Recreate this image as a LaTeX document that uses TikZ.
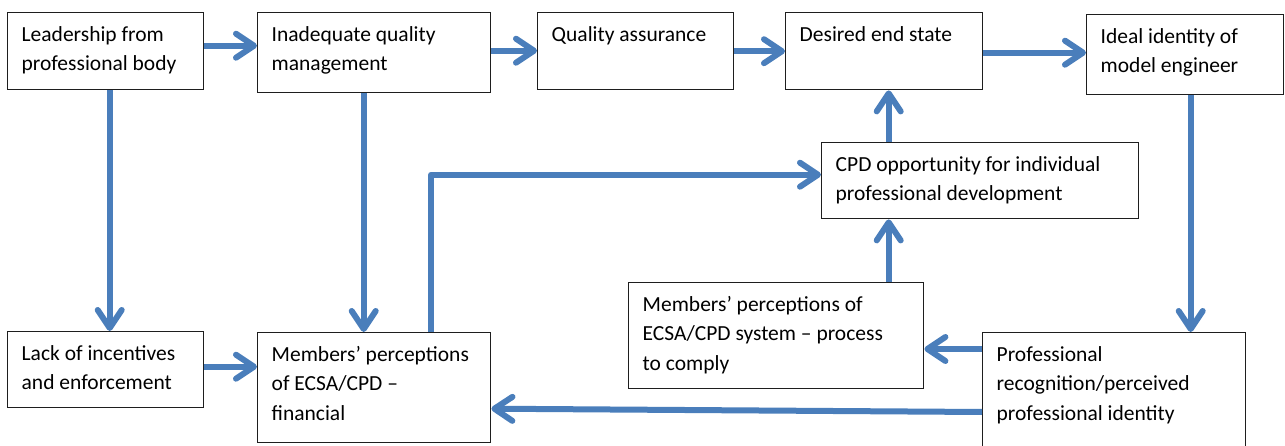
\documentclass[tikz,border=0pt]{standalone}
\usepackage{fontspec}
\setmainfont{Carlito}
\usetikzlibrary{arrows.meta}

\definecolor{flowblue}{RGB}{74,126,187}
\definecolor{boxline}{RGB}{30,30,30}

% text block inside a box: fixed size, top aligned, left inset
\newcommand\boxtext[3]{%
  \parbox[c][#2][t]{#1}{\vspace*{8pt}\raggedright\leftskip=14pt
    \fontsize{21.5}{29.5}\selectfont\strut #3}}

\tikzset{
  box/.style={draw=boxline, line width=1.4pt, inner sep=0pt, anchor=north west, fill=white},
  flow/.style={draw=flowblue, line width=6pt, line join=round,
    -{Straight Barb[length=18pt,width=24pt,round]}},
}

\begin{document}
\begin{tikzpicture}[x=1pt,y=-1pt]
\useasboundingbox (0,0) rectangle (1285,446);

% top row
\node[box] (lead)  at (7,12)    {\boxtext{196pt}{77pt}{Leadership from\\professional body}};
\node[box] (inad)  at (257,12)  {\boxtext{233pt}{80pt}{Inadequate quality\\management}};
\node[box] (qa)    at (537,12)  {\boxtext{196pt}{77pt}{Quality assurance}};
\node[box] (des)   at (785,12)  {\boxtext{197pt}{77pt}{Desired end state}};
\node[box] (ideal) at (1086,14) {\boxtext{197pt}{80pt}{Ideal identity of\\model engineer}};

% middle
\node[box] (cpd)   at (821,142) {\boxtext{317pt}{76pt}{CPD opportunity for individual\\professional development}};
\node[box] (sys)   at (628,282) {\boxtext{295pt}{106pt}{Members’ perceptions of\\ECSA/CPD system – process\\to comply}};

% bottom row
\node[box] (lack)  at (7,331)   {\boxtext{196pt}{76pt}{Lack of incentives\\and enforcement}};
\node[box] (fin)   at (257,332) {\boxtext{233pt}{110pt}{Members’ perceptions\\of ECSA/CPD –\\financial}};
\node[box] (prof)  at (982,332) {\boxtext{263pt}{150pt}{Professional\\recognition/perceived\\professional identity}};

% anchor points on the box edges
\coordinate (a1) at ([yshift=5.5pt]lead.east);
\coordinate (a2) at ([yshift=2pt]inad.east);
\coordinate (a3) at (qa.east);
\coordinate (a4) at ([yshift=-1.5pt]des.east);
\coordinate (d1) at ([xshift=4pt]lead.south);
\coordinate (d2) at ([xshift=-10.5pt]inad.south);
\coordinate (d3) at ([xshift=5.5pt]ideal.south);
\coordinate (l1) at ([yshift=3pt]lack.east);
\coordinate (f1) at ([xshift=57pt]fin.north);
\coordinate (c1) at ([yshift=6pt]cpd.west);
\coordinate (c2) at ([xshift=-91.5pt]cpd.north);
\coordinate (c3) at ([xshift=-91.5pt]cpd.south);
\coordinate (p1) at ([yshift=-17pt]prof.north west);
\coordinate (p2) at ([yshift=-80pt]prof.north west);
\coordinate (f2) at ([yshift=-21pt]fin.east);

% connectors
\draw[flow] (a1) -- (a1 -| inad.west);
\draw[flow] (a2) -- (a2 -| qa.west);
\draw[flow] (a3) -- (a3 -| des.west);
\draw[flow] (a4) -- (a4 -| ideal.west);
\draw[flow] (d1) -- (d1 |- lack.north);
\draw[flow] (d2) -- (d2 |- fin.north);
\draw[flow] (d3) -- (d3 |- prof.north);
\draw[flow] (l1) -- (l1 -| fin.west);
\draw[flow] (f1) |- (c1);
\draw[flow] (c2) -- (c2 |- des.south);
\draw[flow] (sys.north -| c3) -- (c3);
\draw[flow] (p1) -- (p1 -| sys.east);
\draw[flow] (p2) -- (f2);
\end{tikzpicture}
\end{document}
